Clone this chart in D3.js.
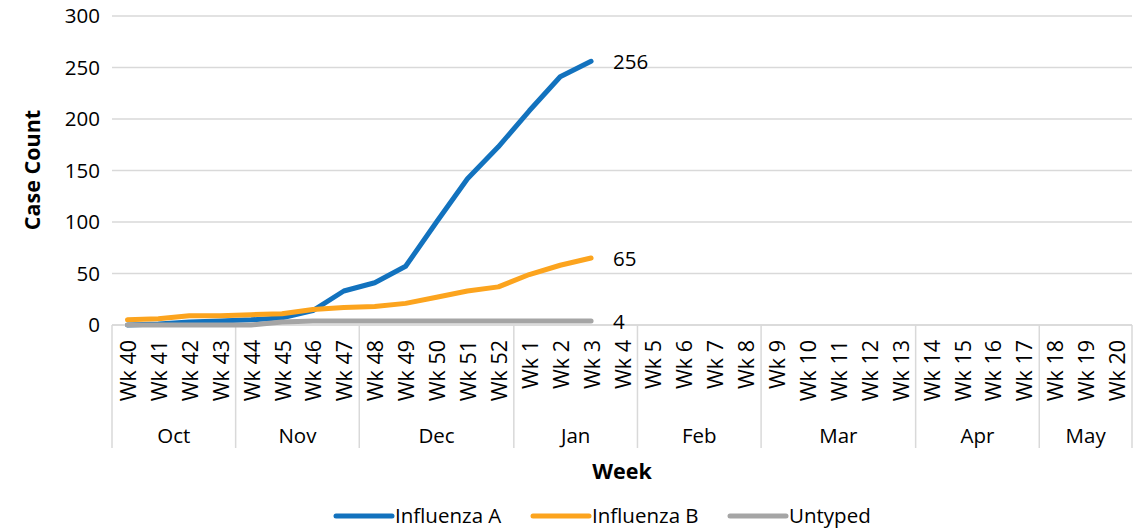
<!DOCTYPE html>
<html>
<head>
<meta charset="utf-8">
<script src="https://cdn.jsdelivr.net/npm/d3@7"></script>
<style>
  body { margin: 0; background: #fff; }
  svg { display: block; font-family: "Open Sans", "Noto Sans", sans-serif; }
</style>
</head>
<body>
<div class="chart"></div>
<script>
// week categories, months they fall in
const weeks = ["Wk 40","Wk 41","Wk 42","Wk 43","Wk 44","Wk 45","Wk 46","Wk 47","Wk 48","Wk 49","Wk 50","Wk 51","Wk 52",
  "Wk 1","Wk 2","Wk 3","Wk 4","Wk 5","Wk 6","Wk 7","Wk 8","Wk 9","Wk 10","Wk 11","Wk 12","Wk 13",
  "Wk 14","Wk 15","Wk 16","Wk 17","Wk 18","Wk 19","Wk 20"];
const months = ["Oct","Nov","Dec","Jan","Feb","Mar","Apr","May"];
const monthWeeks = [4, 4, 5, 4, 4, 5, 4, 3];

// case counts (season so far, up to Wk 3)
const fluA = [0, 1, 3, 4, 5, 7, 14, 33, 41, 57, 100, 142, 173, 208, 241, 256];
const fluB = [5, 6, 9, 9, 10, 11, 15, 17, 18, 21, 27, 33, 37, 49, 58, 65];
const untyped = [0, 0, 0, 0, 0, 3, 4, 4, 4, 4, 4, 4, 4, 4, 4, 4];

const yTicks = [0, 50, 100, 150, 200, 250, 300];

const series = [
  { name: "Influenza A", values: fluA, color: "#1272BE" },
  { name: "Influenza B", values: fluB, color: "#FCA41E" },
  { name: "Untyped", values: untyped, color: "#A5A5A5" }
];

const W = 1140, H = 532;
const plotL = 112, plotR = 1132, plotT = 16, plotB = 325;

const svg = d3.select(".chart").append("svg")
    .attr("width", W)
    .attr("height", H);

const x = d3.scaleBand().domain(weeks).range([plotL, plotR]);
const xc = w => x(w) + x.bandwidth() / 2;
const y = d3.scaleLinear().domain([0, 300]).range([plotB, plotT]);

// gridlines + y labels
svg.append("g").selectAll("line").data(yTicks).enter().append("line")
    .attr("x1", plotL).attr("x2", plotR)
    .attr("y1", d => y(d)).attr("y2", d => y(d))
    .attr("stroke", "#d9d9d9")
    .attr("stroke-width", 1.5);

svg.append("g").selectAll("text").data(yTicks).enter().append("text")
    .attr("x", 100)
    .attr("y", d => y(d))
    .attr("dy", "0.35em")
    .attr("text-anchor", "end")
    .attr("font-size", 20.5)
    .attr("fill", "#000")
    .text(d => d);

// category axis: week labels, month groups
svg.append("line")
    .attr("x1", plotL).attr("x2", plotR)
    .attr("y1", plotB).attr("y2", plotB)
    .attr("stroke", "#d9d9d9").attr("stroke-width", 1.5);

svg.append("g").selectAll("text").data(weeks).enter().append("text")
    .attr("transform", d => `translate(${xc(d)},340) rotate(-90)`)
    .attr("text-anchor", "end")
    .attr("dominant-baseline", "central")
    .attr("font-size", 21.5)
    .attr("fill", "#000")
    .text(d => d);

let acc = 0;
const bounds = [0];
monthWeeks.forEach(n => { acc += n; bounds.push(acc); });

svg.append("g").selectAll("line").data(bounds).enter().append("line")
    .attr("x1", i => plotL + i * x.step())
    .attr("x2", i => plotL + i * x.step())
    .attr("y1", plotB).attr("y2", 448)
    .attr("stroke", "#d9d9d9").attr("stroke-width", 1.5);

svg.append("g").selectAll("text").data(months).enter().append("text")
    .attr("x", (d, i) => plotL + (bounds[i] + bounds[i + 1]) / 2 * x.step())
    .attr("y", 436)
    .attr("dy", "0.35em")
    .attr("text-anchor", "middle")
    .attr("font-size", 20.5)
    .attr("fill", "#000")
    .text(d => d);

// axis titles
svg.append("text")
    .attr("transform", "translate(32,170) rotate(-90)")
    .attr("text-anchor", "middle")
    .attr("dy", "0.35em")
    .attr("font-size", 21.5)
    .attr("font-weight", "bold")
    .text("Case Count");

svg.append("text")
    .attr("x", 622).attr("y", 471)
    .attr("dy", "0.35em")
    .attr("text-anchor", "middle")
    .attr("font-size", 21.5)
    .attr("font-weight", "bold")
    .text("Week");

// lines, in series order like the original
const line = d3.line()
    .x((d, i) => xc(weeks[i]))
    .y(d => y(d));

svg.append("g").selectAll("path").data(series).enter().append("path")
    .attr("d", d => line(d.values))
    .attr("fill", "none")
    .attr("stroke", d => d.color)
    .attr("stroke-width", 5)
    .attr("stroke-linejoin", "round")
    .attr("stroke-linecap", "round");

// end value labels
svg.append("g").selectAll("text").data(series).enter().append("text")
    .attr("x", d => xc(weeks[d.values.length - 1]) + 22)
    .attr("y", d => y(d.values[d.values.length - 1]) + 1)
    .attr("dy", "0.35em")
    .attr("font-size", 20.5)
    .attr("fill", "#000")
    .text(d => d.values[d.values.length - 1]);

// legend
const legendX = [336, 533, 730];
const lg = svg.append("g").selectAll("g").data(series).enter().append("g")
    .attr("transform", (d, i) => `translate(${legendX[i]},516)`);
lg.append("line")
    .attr("x1", 0).attr("x2", 56)
    .attr("stroke", d => d.color)
    .attr("stroke-width", 5)
    .attr("stroke-linecap", "round");
lg.append("text")
    .attr("x", 59)
    .attr("dy", "0.35em")
    .attr("font-size", 20.5)
    .attr("fill", "#000")
    .text(d => d.name);
</script>
</body>
</html>
